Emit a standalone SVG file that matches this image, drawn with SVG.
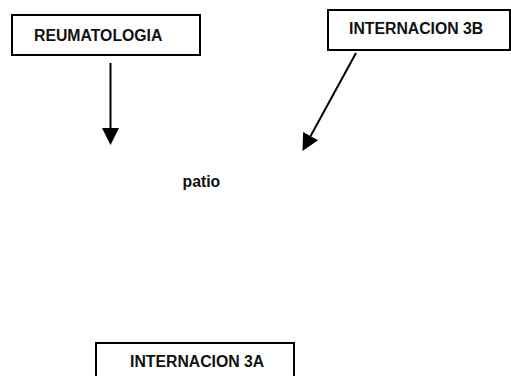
<svg xmlns="http://www.w3.org/2000/svg" width="511" height="376" viewBox="0 0 511 376">
  <style>
    .box { fill: #ffffff; stroke: #000000; stroke-width: 2; }
    .lbl { font-family: "Liberation Sans", Arial, sans-serif; font-weight: bold; font-size: 15.8px; fill: #111111; }
    .conn { stroke: #000000; stroke-width: 2; fill: none; }
  </style>
  <defs>
    <marker id="arrow" markerUnits="userSpaceOnUse" markerWidth="17" markerHeight="17" refX="0" refY="8.5" orient="auto" overflow="visible">
      <path d="M0,0 L17,8.5 L0,17 Z" fill="#000000"/>
    </marker>
  </defs>
  <rect width="511" height="376" fill="#ffffff"/>
  <g id="reumatologia">
    <rect class="box" x="12" y="15" width="188" height="40"/>
    <text class="lbl" x="34" y="41">REUMATOLOGIA</text>
  </g>
  <g id="internacion3b">
    <rect class="box" x="328" y="10" width="182" height="40"/>
    <text class="lbl" x="349" y="34">INTERNACION 3B</text>
  </g>
  <g id="patio">
    <text class="lbl" x="182.5" y="187">patio</text>
  </g>
  <g id="internacion3a">
    <rect class="box" x="96" y="343" width="198" height="40"/>
    <text class="lbl" x="130" y="367">INTERNACION 3A</text>
  </g>
  <g id="connectors">
    <line class="conn" x1="110.5" y1="63" x2="110.5" y2="128" marker-end="url(#arrow)"/>
    <line class="conn" x1="356" y1="53" x2="310.6" y2="136.1" marker-end="url(#arrow)"/>
  </g>
</svg>
